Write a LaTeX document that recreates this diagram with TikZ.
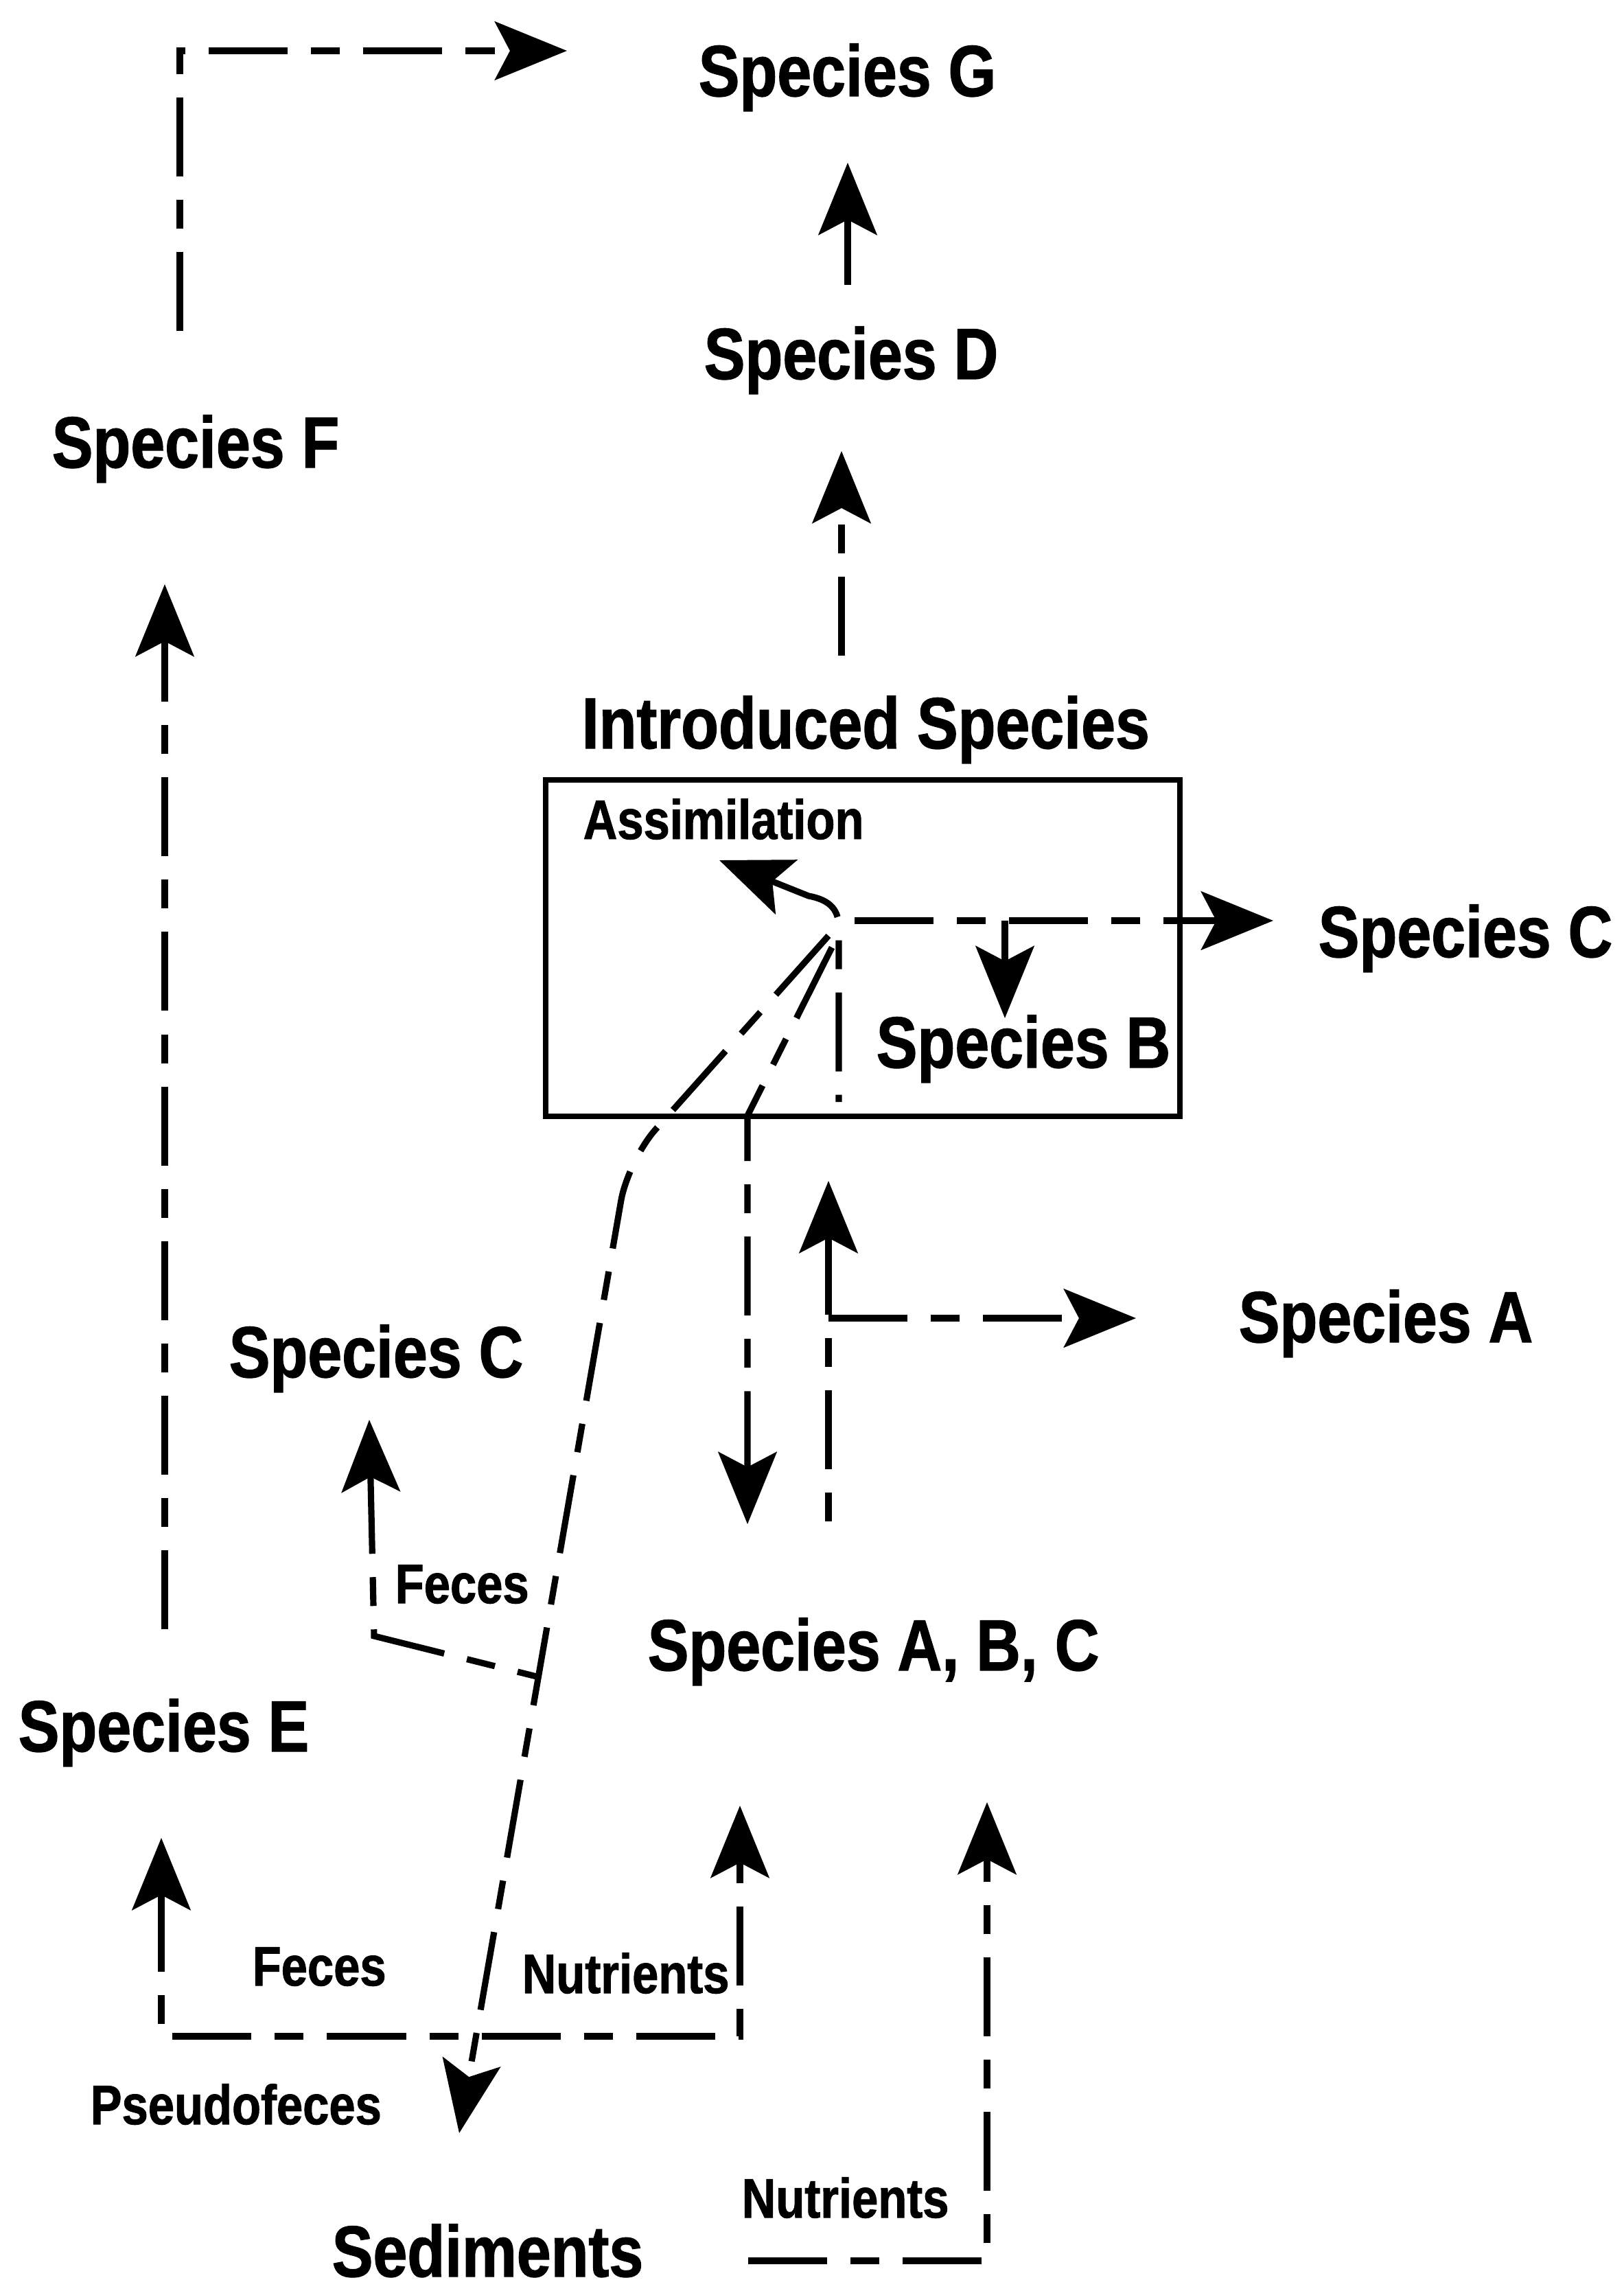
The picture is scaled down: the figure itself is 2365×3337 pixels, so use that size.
\documentclass[tikz,border=0pt]{standalone}
\usepackage{fontspec}
\newfontfamily\labfont[FakeStretch=0.85,FakeBold=1.2]{Liberation Sans}
\usetikzlibrary{arrows.meta}
\begin{document}
\begin{tikzpicture}[x=0.01cm,y=-0.01cm,
  lab/.style={font=\labfont\bfseries\fontsize{30}{36}\selectfont, inner sep=0pt, anchor=base west},
  small/.style={font=\labfont\bfseries\fontsize{23}{28}\selectfont, inner sep=0pt, anchor=base west},
  ln/.style={line width=2.6pt},
  dsh/.style={ln, dash pattern=on 1.15cm off 0.34cm on 0.42cm off 0.34cm},
  tip/.tip={Stealth[length=1.05cm, width=0.85cm, inset=0.22cm]}]

\fill[white] (0,0) rectangle (2365,3337);
\useasboundingbox (0,0) rectangle (2365,3337);

% species labels
\node[lab] (g)   at (1017,140)  {Species G};
\node[lab] (d)   at (1025,552)  {Species D};
\node[lab] (f)   at (75,681)    {Species F};
\node[lab] (int) at (847,1090)  {Introduced Species};
\node[lab] (cr)  at (1920,1394) {Species C};
\node[lab] (b)   at (1276,1555) {Species B};
\node[lab] (a)   at (1804,1955) {Species A};
\node[lab] (cl)  at (333,2006)  {Species C};
\node[lab] (abc) at (943,2433)  {Species A, B, C};
\node[lab] (e)   at (26,2551)   {Species E};
\node[lab] (sed) at (483,3316)  {Sediments};

% flow labels
\node[small] (assim) at (849,1222)  {Assimilation};
\node[small] (fec1)  at (575,2335)  {Feces};
\node[small] (fec2)  at (367,2892)  {Feces};
\node[small] (nut1)  at (760,2903)  {Nutrients};
\node[small] (pseu)  at (131,3094)  {Pseudofeces};
\node[small] (nut2)  at (1080,3230) {Nutrients};

% box round the introduced species
\draw[line width=2.3pt] (795,1136) rectangle (1719,1626);

% junctions and free ends
\coordinate (fgA) at (262,482);
\coordinate (fgB) at (262,74);
\coordinate (fgT) at (826,74);
\coordinate (dgA) at (1235,415);
\coordinate (dgT) at (1235,237);
\coordinate (idA) at (1226,955);
\coordinate (idT) at (1226,657);
\coordinate (efA) at (240,2373);
\coordinate (efT) at (240,851);
\coordinate (eT)  at (235,2677);
\coordinate (eC)  at (235,2966);
\coordinate (nC)  at (1078,2966);
\coordinate (nT)  at (1078,2630);
\coordinate (mA)  at (1207,1363);
\coordinate (mB)  at (915,1690);
\coordinate (psT) at (669,3107);
\coordinate (fJ)  at (786,2443);
\coordinate (fC)  at (545,2383);
\coordinate (fT)  at (538,2068);
\coordinate (iA)  at (1212,1380);
\coordinate (iB)  at (1089,1625);
\coordinate (iT)  at (1089,2220);
\coordinate (uA)  at (1207,2243);
\coordinate (uT)  at (1207,1720);
\coordinate (aJ)  at (1207,1920);
\coordinate (aT)  at (1655,1920);
\coordinate (hA)  at (1222,1605);
\coordinate (hB)  at (1222,1350);
\coordinate (hC)  at (1178,1305);
\coordinate (asT) at (1048,1253);
\coordinate (fork) at (1245,1341);
\coordinate (crT) at (1855,1341);
\coordinate (bJ)  at (1464,1341);
\coordinate (bT)  at (1464,1483);
\coordinate (sA)  at (1090,3293);
\coordinate (sC)  at (1438,3293);
\coordinate (sT)  at (1438,2625);

% Species F to Species G
\draw[dsh,-{tip}] (fgA) -- (fgB) -- (fgT);
% Species D to Species G
\draw[ln,-{tip}] (dgA) -- (dgT);
% introduced species to Species D
\draw[dsh,-{tip}] (idA) -- (idT);
% Species E to Species F
\draw[dsh,-{tip}] (efA) -- (efT);
% feces to Species E, nutrients to Species A, B, C
\draw[dsh,{tip}-{tip}] (eT) -- (eC) -- (nC) -- (nT);
% introduced species: pseudofeces down to the sediments
\draw[dsh,rounded corners=0.6cm,-{tip}] (mA) -- (mB) -- (psT);
% feces to Species C
\draw[dsh,{tip}-] (fT) -- (fC) -- (fJ);
% introduced species to Species A, B, C
\draw[dsh,-{tip}] (iA) -- (iB) -- (iT);
% Species A, B, C up to the introduced species
\draw[dsh,{tip}-] (uT) -- (uA);
\draw[dsh,-{tip}] (aJ) -- (aT);
% assimilation
\draw[dsh,{tip}-] (asT) -- (hC) .. controls (1205,1310) and (1222,1322) .. (hB) -- (hA);
% to Species C and Species B
\draw[dsh,-{tip}] (fork) -- (crT);
\draw[ln,-{tip}] (bJ) -- (bT);
% nutrients from the sediments
\draw[dsh,-{tip}] (sA) -- (sC) -- (sT);
\end{tikzpicture}
\end{document}
